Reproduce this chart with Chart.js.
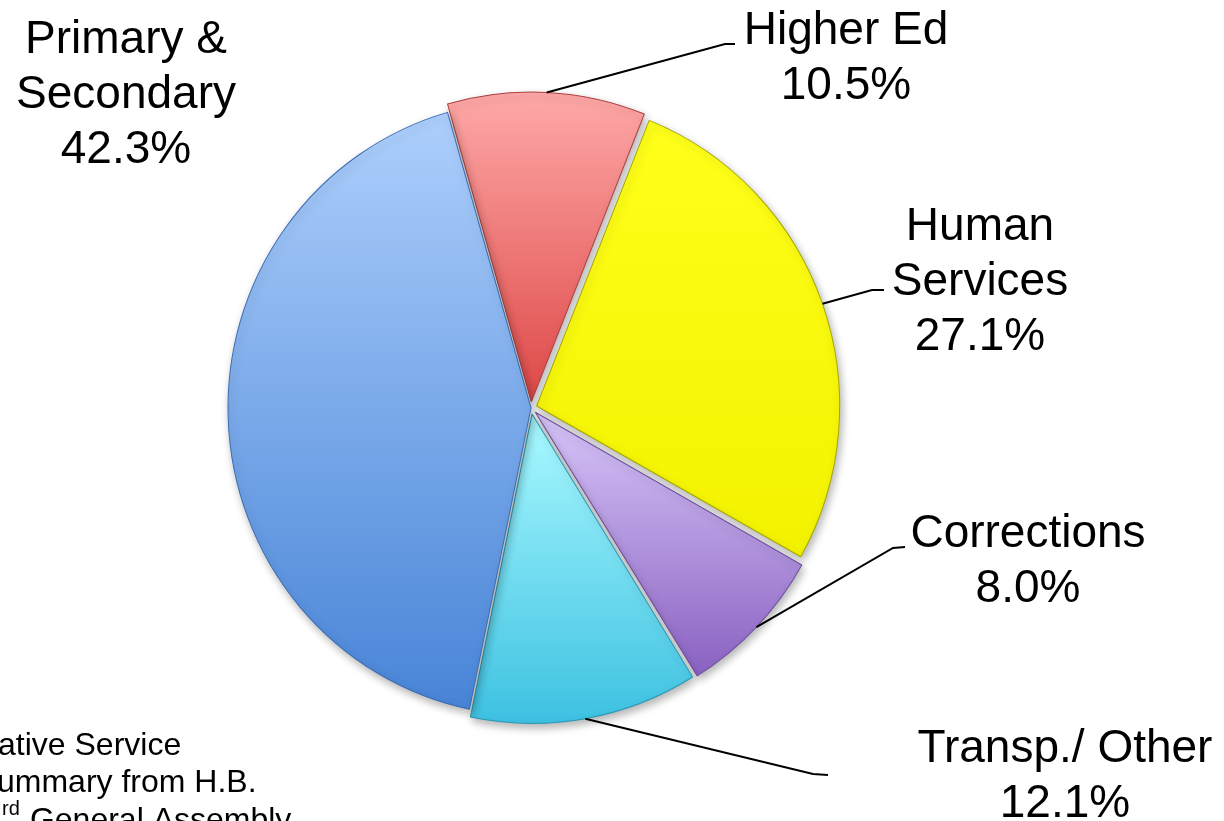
<!DOCTYPE html>
<html>
<head>
<meta charset="utf-8">
<title>Spending by area</title>
<script src="https://cdn.jsdelivr.net/npm/chart.js@4.4.1/dist/chart.umd.min.js"></script>
<style>
  html, body { margin: 0; padding: 0; background: #fff; overflow: hidden; }
  #wrap { position: relative; width: 1224px; height: 821px; }
</style>
</head>
<body>
<div id="wrap"><canvas id="chart-pie" width="1224" height="821"></canvas></div>
<script>
// data, clockwise from the top
const categories = ["Higher Ed", "Human Services", "Corrections", "Transp./ Other", "Primary & Secondary"];
const shares = [10.5, 27.1, 8.0, 12.1, 42.3];
const labelLines = [["Higher Ed"], ["Human", "Services"], ["Corrections"], ["Transp./ Other"], ["Primary &", "Secondary"]];
const footLines = ["ative Service", "ummary from H.B."];

// look
const topColors = ["#ffaaaa", "#ffff1a", "#d5c3f7", "#a8f8ff", "#adcffc"];
const bottomColors = ["#de4b49", "#f2f200", "#8960c1", "#3bc0e1", "#4884d7"];
const edgeColors = ["#b04040", "#a8a800", "#6f4fa0", "#2a98b4", "#3a6cb4"];
const SLICE_OFFSET = [24, 24, 24, 24, 0];
const ROTATION = -16;
const RADIUS = 303;
const STRETCH_Y = 1.015; // the slide pie is a touch taller than wide
const FONT = "'Liberation Sans', Arial, sans-serif";

// label placement: text centre / first baseline, leader elbow and end
const labelPos = [
  { x: 846, y: 44, elbow: [725, 44], end: [735, 44] },
  { x: 980, y: 240, elbow: [872, 290], end: [884, 290] },
  { x: 1028, y: 547, elbow: [893, 548], end: [905, 547] },
  { x: 1065, y: 762, elbow: [813, 774], end: [828, 775] },
  { x: 126, y: 53, elbow: null, end: null },
];

function pieCenter(chart) {
  const a = chart.chartArea;
  return { x: (a.left + a.right) / 2, y: (a.top + a.bottom) / 2 };
}

function sliceGeom(chart, i) {
  const c = pieCenter(chart);
  const total = shares.reduce((s, v) => s + v, 0);
  let start = (ROTATION - 90) * Math.PI / 180;
  for (let k = 0; k < i; k++) start += (shares[k] / total) * 2 * Math.PI;
  const circ = (shares[i] / total) * 2 * Math.PI;
  const end = start + circ;
  const mid = (start + end) / 2;
  // same shift the arc element applies for its offset
  const base = SLICE_OFFSET[i] / 4;
  const shift = base * (2 - Math.sin(Math.min(Math.PI, circ)));
  return {
    cx: c.x + Math.cos(mid) * shift,
    cy: c.y + Math.sin(mid) * shift,
    r: RADIUS, start, end, mid,
  };
}

function sliceFill(ctx) {
  const i = ctx.dataIndex;
  const chart = ctx.chart;
  if (i == null || !chart.chartArea) return bottomColors[i] || "#ccc";
  const g = sliceGeom(chart, i);
  const ys = [g.cy];
  for (let t = 0; t <= 40; t++) {
    const ang = g.start + ((g.end - g.start) * t) / 40;
    ys.push(g.cy + Math.sin(ang) * g.r);
  }
  const y0 = Math.min(...ys);
  const y1 = Math.max(...ys);
  const grad = chart.ctx.createLinearGradient(0, y0, 0, y1);
  grad.addColorStop(0, topColors[i]);
  grad.addColorStop(1, bottomColors[i]);
  return grad;
}

const shadowPlugin = {
  id: "pieShadow",
  beforeDatasetsDraw(chart) {
    const c = chart.ctx;
    const p = pieCenter(chart);
    c.save();
    c.translate(p.x, p.y);
    c.scale(1, STRETCH_Y);
    c.translate(-p.x, -p.y);
    c.shadowColor = "rgba(0,0,0,0.30)";
    c.shadowBlur = 9;
    c.shadowOffsetX = 2;
    c.shadowOffsetY = 4;
  },
  afterDatasetsDraw(chart) {
    chart.ctx.restore();
  },
};

const labelPlugin = {
  id: "pieLabels",
  afterDraw(chart) {
    const c = chart.ctx;
    const pc = pieCenter(chart);
    c.save();
    c.fillStyle = "#000";
    c.strokeStyle = "#000";
    c.lineWidth = 2;
    c.textAlign = "center";
    c.textBaseline = "alphabetic";
    c.font = `46px ${FONT}`;
    categories.forEach((name, i) => {
      const p = labelPos[i];
      const lines = labelLines[i].concat(shares[i].toFixed(1) + "%");
      lines.forEach((t, k) => c.fillText(t, p.x, p.y + k * 55));
      if (p.elbow) {
        const g = sliceGeom(chart, i);
        const sx = g.cx + Math.cos(g.mid) * g.r;
        const sy = pc.y + (g.cy + Math.sin(g.mid) * g.r - pc.y) * STRETCH_Y;
        c.beginPath();
        c.moveTo(sx, sy);
        c.lineTo(p.elbow[0], p.elbow[1]);
        c.lineTo(p.end[0], p.end[1]);
        c.stroke();
      }
    });

    // source note, cut by the left edge of the slide
    c.textAlign = "left";
    c.font = `32px ${FONT}`;
    c.fillText(footLines[0], -2, 755);
    c.fillText(footLines[1], -3, 792);
    c.font = `20px ${FONT}`;
    c.fillText("rd", 2, 815);
    c.font = `32px ${FONT}`;
    c.fillText(" General Assembly", 21, 830);
    c.restore();
  },
};

const chart = new Chart(document.getElementById("chart-pie").getContext("2d"), {
  type: "pie",
  data: {
    labels: categories,
    datasets: [
      {
        data: shares,
        backgroundColor: sliceFill,
        borderColor: edgeColors,
        borderWidth: 1,
        offset: SLICE_OFFSET,
      },
    ],
  },
  options: {
    responsive: false,
    animation: false,
    events: [],
    rotation: ROTATION,
    radius: RADIUS,
    layout: { padding: { left: 0, right: 162, top: 0, bottom: 5 } },
    plugins: {
      legend: { display: false },
      tooltip: { enabled: false },
    },
  },
  plugins: [shadowPlugin, labelPlugin],
});
</script>
</body>
</html>
